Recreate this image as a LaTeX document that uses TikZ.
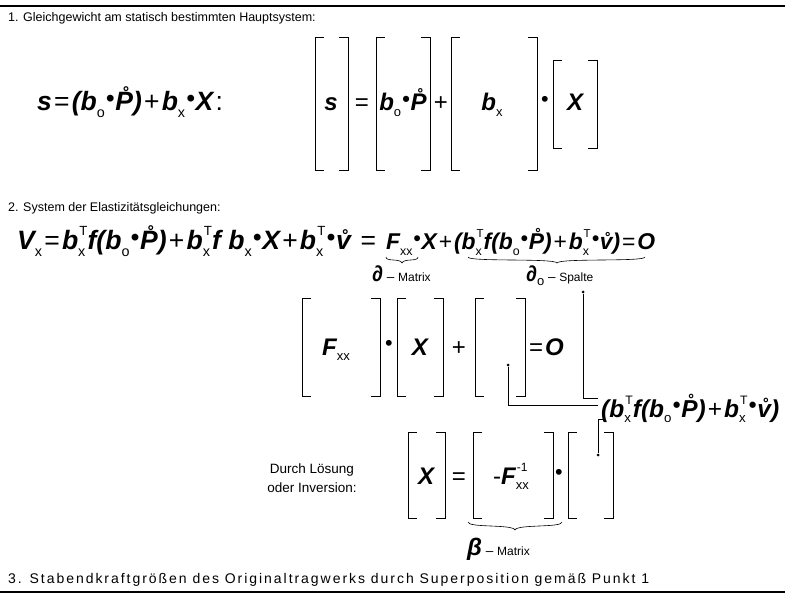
\documentclass[tikz,border=0pt]{standalone}
\usepackage{fontspec}
\setmainfont{Liberation Sans}
\newcommand\bi{\bfseries\itshape}
\newcommand\ssb[1]{\raisebox{-0.45ex}{\normalfont\fontsize{13}{13}\selectfont #1}}
\newcommand\ssp[1]{\raisebox{1.0ex}{\normalfont\fontsize{12}{12}\selectfont #1}}
\newcommand\sbsp[2]{\makebox[0pt][l]{\kern1pt\ssp{#2}}\ssb{#1}\kern2pt}
\newcommand\cdt{\kern1pt\raisebox{0.35ex}{\scalebox{0.9}{•}}\kern1pt}
\newcommand\Pring{\r{P}}
\newcommand\vring{\r{v}}
\newcommand\bxT{b\sbsp{x}{T}}
\newcommand\paren[1]{{\normalfont\kern2pt #1\kern2pt}}
\tikzset{
  head/.style={anchor=base west,font=\fontsize{12.5}{13}\selectfont,inner sep=0pt},
  frm/.style={font=\fontsize{24}{25}\selectfont\bi,inner sep=0pt,anchor=base},
  lbl/.style={font=\fontsize{13.5}{14}\selectfont,inner sep=0pt,anchor=base,align=left},
  br/.style={line width=0.9pt},
  cn/.style={line width=0.6pt},
  dotc/.style={circle,fill=black,inner sep=0pt,minimum size=3pt}
}
\newcommand\bracket[4]{% left right top bottom
  \draw[br] (#1+9,#3)--(#1,#3)--(#1,#4)--(#1+9,#4);
  \draw[br] (#2-9,#3)--(#2,#3)--(#2,#4)--(#2-9,#4);}
\begin{document}
\begin{tikzpicture}[x=1pt,y=-1pt]
\useasboundingbox[fill=white] (0,0) rectangle (785,596);
\draw[line width=1.6pt] (0,6)--(785,6);
\draw[line width=1.6pt] (0,592)--(785,592);
\node[head] (h1) at (8,22) {1. Gleichgewicht am statisch bestimmten Hauptsystem:};
\node[head] (h2) at (8,212) {2. System der Elastizitätsgleichungen:};
\node[head,font=\fontsize{14}{15}\selectfont\addfontfeature{LetterSpace=14}] (h3) at (8,583) {3. Stabendkraftgrößen des Originaltragwerks durch Superposition gemäß Punkt 1};
% row 1
\node[frm,anchor=base west] (f1) at (37,111) {\resizebox{188pt}{!}{s\paren{=}(b\ssb{o}\cdt\Pring)\paren{+}b\ssb{x}\cdt X\paren{:}}};
\bracket{315}{348}{37}{170}
\bracket{376}{430}{37}{170}
\bracket{451}{537}{37}{170}
\bracket{553}{597}{60}{148}
\node[frm] (s1) at (331,111) {s};
\node[frm] (e1) at (362,111) {\normalfont =};
\node[frm] (bp) at (403,111) {b\ssb{o}\cdt\Pring};
\node[frm] (p1) at (441,111) {\normalfont +};
\node[frm] (bx) at (492,111) {b\ssb{x}};
\node[frm] (d1) at (545,111) {\normalfont\cdt};
\node[frm] (x1) at (575,111) {X};
% row 2
\node[frm,anchor=base west] (f2) at (17,250) {\resizebox{361pt}{!}{V\ssb{x}\paren{=}\bxT f(b\ssb{o}\cdt\Pring)\paren{+}\bxT f b\ssb{x}\cdt X\paren{+}\bxT\cdt\vring\ \paren{=}}};
\node[frm,anchor=base west] (f2b) at (386,250) {\resizebox{269pt}{!}{F\ssb{xx}\cdt X\paren{+}(\bxT f(b\ssb{o}\cdt\Pring)\paren{+}\bxT\cdt\vring)\paren{=}O}};
\draw[cn] (386,257) .. controls (386,262) and (400,258) .. (402,263) .. controls (404,258) and (418,262) .. (418,257);
\draw[cn] (468,257) .. controls (468,262) and (555,258) .. (557,263) .. controls (559,258) and (645,262) .. (645,257);
\node[lbl,anchor=base west] (dm) at (372,282) {{\fontsize{22}{22}\selectfont\bi ∂} – {\fontsize{12}{12}\selectfont Matrix}};
\node[lbl,anchor=base west] (ds) at (526,282) {{\fontsize{22}{22}\selectfont\bi ∂}\ssb{o} – {\fontsize{12}{12}\selectfont Spalte}};
\bracket{302}{380}{298}{396}
\bracket{397}{443}{298}{396}
\bracket{475}{525}{298}{396}
\node[frm] (fx) at (336,355) {F\ssb{xx}};
\node[frm] (d2) at (389,355) {\normalfont\cdt};
\node[frm] (x2) at (420,355) {X};
\node[frm] (p2) at (459,355) {\normalfont +};
\node[frm,anchor=base west] (o2) at (527,355) {\paren{=}O};
\node[dotc] (dA) at (508,365) {};
\node[dotc] (dB) at (583,292) {};
\node[frm,anchor=base west] (ex) at (601,417) {\resizebox{178pt}{!}{(\bxT f(b\ssb{o}\cdt\Pring)\paren{+}\bxT\cdt\vring)}};
\coordinate (eA) at (598,405);
\coordinate (eB) at (598,398);
\draw[cn] (dA) |- (eA);
\draw[cn] (dB) |- (eB);
\node[dotc] (dC) at (598,455) {};
\draw[cn] (603,419) -- (598,419) -- (dC);
% row 3
\node[lbl] (dl) at (312,473) {\makebox[0pt]{Durch Lösung}};
\node[lbl] (oi) at (312,492) {\makebox[0pt]{oder Inversion:}};
\bracket{408}{445}{432}{518}
\bracket{473}{553}{432}{518}
\bracket{568}{613}{432}{518}
\node[frm] (x3) at (426,484) {X};
\node[frm] (e3) at (459,484) {\normalfont =};
\node[frm] (fi) at (512,484) {\normalfont -\bi F\sbsp{xx}{-1}};
\node[frm] (d3) at (559,484) {\normalfont\cdt};
\draw[cn] (468,522) .. controls (468,528) and (513,524) .. (515,530) .. controls (517,524) and (562,528) .. (562,522);
\node[lbl,anchor=base west] (bm) at (467,555) {{\fontsize{24}{24}\selectfont\bi β} – {\fontsize{12}{12}\selectfont Matrix}};
\end{tikzpicture}
\end{document}
